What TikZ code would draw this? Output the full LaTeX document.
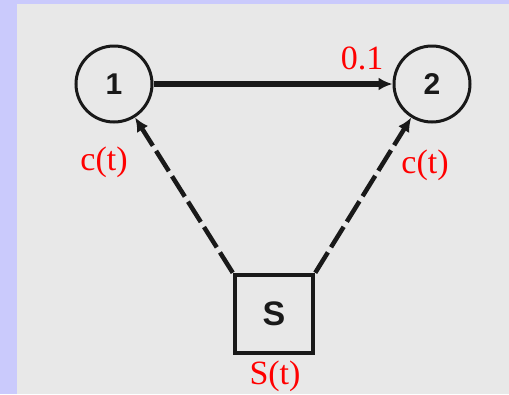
\documentclass[tikz,border=0pt]{standalone}
\usepackage{fontspec}
\setmainfont{Liberation Serif}
\newfontfamily\lsans{Liberation Sans}
\usetikzlibrary{arrows.meta}
\definecolor{lav}{RGB}{202,202,252}
\definecolor{bgray}{RGB}{232,232,232}
\definecolor{ink}{RGB}{25,25,25}
\begin{document}
\begin{tikzpicture}[x=1pt,y=-1pt,
  state/.style={circle, draw=ink, line width=3pt, minimum size=76pt, inner sep=0pt,
    font=\lsans\bfseries\fontsize{30}{30}\selectfont, text=ink},
  src/.style={rectangle, draw=ink, line width=4.5pt, minimum size=78pt, inner sep=0pt,
    font=\lsans\bfseries\fontsize{34}{34}\selectfont, text=ink},
  lab/.style={text=red, inner sep=0pt, font=\fontsize{34}{34}\selectfont},
  flow/.style={draw=ink, line width=5.5pt, -{Latex[length=14pt,width=13pt]}},
  dflow/.style={draw=ink, line width=4.5pt, dash pattern=on 24pt off 6pt, -{Latex[length=14pt,width=13pt]}}]
\fill[lav] (0,0) rectangle (509,394);
\fill[bgray] (17,4) rectangle (509,394);
\useasboundingbox (0,0) rectangle (509,394);
\node[state] (c1) at (114,84) {1};
\node[state] (c2) at (432,84) {2};
\node[src] (s) at (274,314) {S};
\draw[flow] (c1) -- (c2);
\draw[dflow] (s.north west) -- (c1);
\draw[dflow] (s.north east) -- (c2);
\node[lab] (l01) at (362,58) {0.1};
\node[lab] (lc1) at (104,162) {c(t)};
\node[lab] (lc2) at (425,165) {c(t)};
\node[lab] (ls) at (275,376) {S(t)};
\end{tikzpicture}
\end{document}
